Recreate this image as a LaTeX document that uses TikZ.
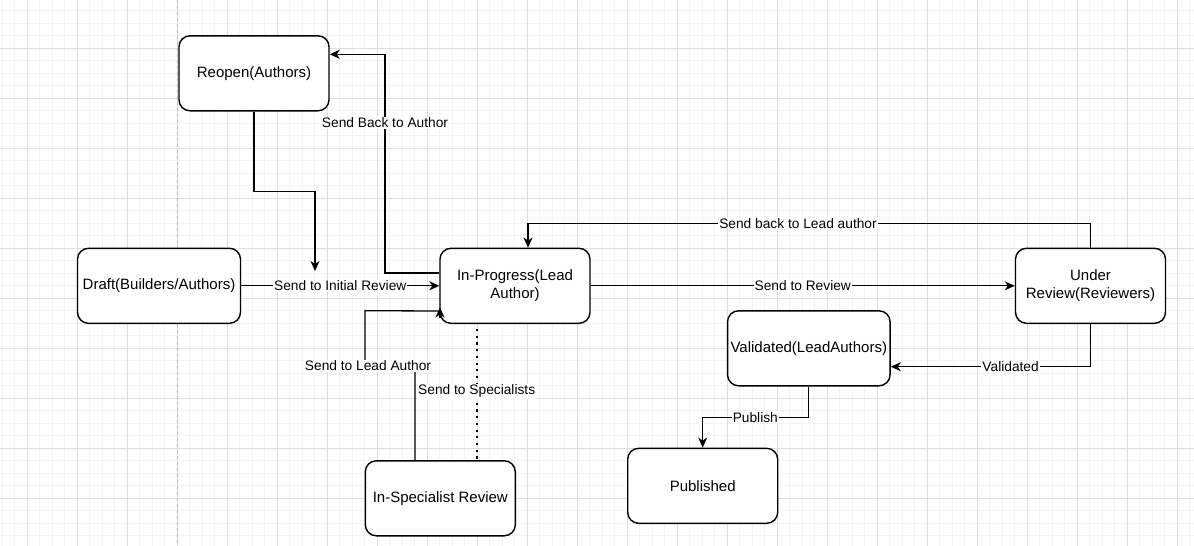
\documentclass[tikz,border=0pt]{standalone}
\usepackage{fontspec}
\setmainfont{Liberation Sans}
\usetikzlibrary{arrows.meta,calc}
\definecolor{gridminor}{HTML}{F3F3F3}
\definecolor{gridmajor}{HTML}{DDDDDD}
\definecolor{pagebreak}{HTML}{B8B8B8}
\begin{document}
\begin{tikzpicture}[x=1pt,y=-1pt,
  box/.style={draw, line width=1.4pt, rounded corners=11pt, minimum width=150pt, minimum height=75pt, align=center, font=\fontsize{15}{18}\selectfont, inner sep=2pt, fill=white},
  edge/.style={line width=1.3pt},
  arr/.style={edge, -{Stealth[length=10pt,width=9pt,inset=3pt]}},
  dotline/.style={line width=2.2pt, dash pattern=on 2.2pt off 4.5pt},
  lbl/.style={fill=white, font=\fontsize{13.75}{16}\selectfont, inner sep=1pt}]
\useasboundingbox (0,0) rectangle (1194,546);
\fill[white] (0,0) rectangle (1194,546);
% grid
\foreach \i in {0,...,95} \draw[gridminor, line width=0.8pt] ({2.3+12.5*\i},0) -- ({2.3+12.5*\i},546);
\foreach \j in {0,...,44} \draw[gridminor, line width=0.8pt] (0,{-1.7+12.5*\j}) -- (1194,{-1.7+12.5*\j});
\foreach \i in {0,...,23} \draw[gridmajor, line width=0.9pt] ({27.3+50*\i},0) -- ({27.3+50*\i},546);
\foreach \j in {0,...,11} \draw[gridmajor, line width=0.9pt] (0,{-1.7+50*\j}) -- (1194,{-1.7+50*\j});
\draw[pagebreak, line width=1pt, dash pattern=on 3pt off 3pt] (177.3,0) -- (177.3,546);

% nodes
\node[box] (reopen) at (254,73.3) {Reopen(Authors)};
\node[box, minimum width=163pt] (draft) at (159,285.8) {Draft(Builders/Authors)};
\node[box] (inprog) at (515,285.8) {In-Progress(Lead\\Author)};
\node[box] (under) at (1090.5,285.8) {Under\\Review(Reviewers)};
\node[box, minimum width=162.5pt] (valid) at (808.8,348.3) {Validated(LeadAuthors)};
\node[box] (pub) at (702.7,485.8) {Published};
\node[box] (spec) at (440.3,498.3) {In-Specialist Review};

% edges
\coordinate (rtip) at (315,271);
\draw[arr] (reopen.south) -- (254,191.8) -- (315,191.8) -- (rtip);

\draw[arr] ($(inprog.west)+(0,-12.8)$) -- (385,273)
  -- node[lbl,pos=0.686]{Send Back to Author} (385,54.3)
  -- ($(reopen.east)+(0,-19)$);

\draw[arr] (draft.east) -- node[lbl]{Send to Initial Review} (inprog.west);

\draw[arr] (inprog.east) -- node[lbl]{Send to Review} (under.west);

\draw[arr] (under.north) -- (1090.5,223.3)
  -- node[lbl,pos=0.52]{Send back to Lead author} (528,223.3)
  -- ($(inprog.north)+(13,0)$);

\draw[arr] (under.south) -- (1090.5,366.7)
  -- node[lbl,pos=0.40]{Validated} ($(valid.east)+(0,18.4)$);

\draw[arr] (valid.south) -- (808.8,417.3)
  -- node[lbl,pos=0.504]{Publish} (702.7,417.3) -- (pub.north);

\draw[edge] ($(spec.north)+(-25.3,0)$) -- (415,366)
  -- node[lbl,pos=0.94]{Send to Lead Author} (365,366)
  -- (365,310.7) -- ($(inprog.south west)+(0.7,-13)$);
\draw[arr] ($(inprog.south west)+(0.7,-6)$) -- ($(inprog.south west)+(0.7,-16.5)$);

\draw[dotline] ($(inprog.south)+(-38.3,5)$)
  -- node[lbl,pos=0.475]{Send to Specialists} ($(spec.north)+(36.4,0)$);
\end{tikzpicture}
\end{document}
